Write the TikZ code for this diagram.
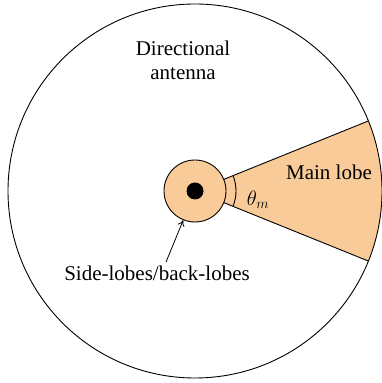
\documentclass[tikz,border=0pt]{standalone}
\usepackage{fontspec}
\setmainfont{Liberation Serif}
\usetikzlibrary{arrows.meta,calc}
\definecolor{lobeorange}{HTML}{F9CB98}
\tikzset{
  rim/.style={draw=black,line width=.9pt},
  lobe/.style={fill=lobeorange},
  edge/.style={draw=black,line width=.9pt},
  source/.style={circle,fill=black,inner sep=0pt,minimum size=17pt},
  sidelobe/.style={circle,draw=black,fill=lobeorange,line width=.9pt,inner sep=0pt,minimum size=62pt},
  label/.style={font=\fontsize{21}{24}\selectfont,align=center},
  pointer/.style={-{To[length=6pt,width=7pt]},line width=.8pt},
}
\begin{document}
\begin{tikzpicture}[x=1pt,y=1pt]
  \path[use as bounding box] (0,0) rectangle (382,383);
  \coordinate (c) at (195,192);
  % main lobe sector
  \fill[lobe] (c) -- ++(22:187) arc[start angle=22,end angle=-22,radius=187] -- cycle;
  \draw[edge] (c) -- ++(22:187);
  \draw[edge] (c) -- ++(-22:187);
  \draw[rim] (c) circle[radius=187];
  % side-lobes and source
  \node[sidelobe] (side) at (c) {};
  \node[source] (src) at (c) {};
  \draw[edge] (c) ++(-22:41) arc[start angle=-22,end angle=22,radius=41];
  \node[label] (title) at (183,323) {Directional\\antenna};
  \node[label] (main) at (329,211) {Main lobe};
  \node[label] (theta) at (258,183) {$\theta_m$};
  \node[label] (sidelbl) at (157,110) {Side-lobes/back-lobes};
  \draw[pointer] ([xshift=9pt]sidelbl.north) -- (side.248);
\end{tikzpicture}
\end{document}
